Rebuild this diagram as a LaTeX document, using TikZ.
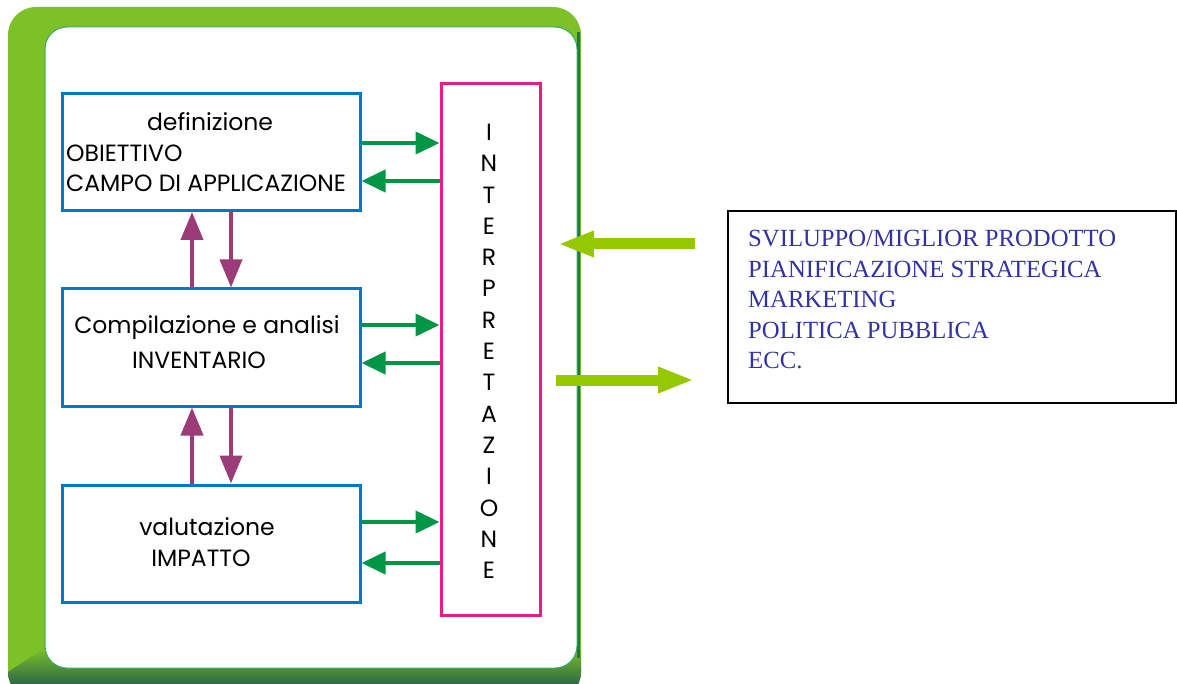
\documentclass[tikz,border=0pt]{standalone}
\usepackage{fontspec}
\setmainfont{Liberation Serif}
\newfontfamily\gothic{Poppins}
\usetikzlibrary{arrows.meta}
\definecolor{framegreen}{RGB}{125,192,40}
\definecolor{framedark}{RGB}{35,95,75}
\definecolor{edgegreen}{RGB}{30,115,80}
\definecolor{boxblue}{RGB}{0,120,200}
\definecolor{intpink}{RGB}{228,30,130}
\definecolor{arrgreen}{RGB}{0,150,70}
\definecolor{arrpurple}{RGB}{155,60,120}
\definecolor{arrlime}{RGB}{150,200,0}
\definecolor{txtblue}{RGB}{50,50,160}
\tikzset{
  stagebox/.style={draw=boxblue, line width=3pt, minimum width=298pt, minimum height=117pt, inner sep=0pt},
  lbl/.style={font=\gothic\fontsize{23.5}{28}\selectfont, inner sep=0pt},
  flow/.style={draw=arrgreen, line width=4pt, -{Triangle[length=24pt,width=22pt]}},
  cycarrow/.style={draw=arrpurple, line width=4pt, -{Triangle[length=28pt,width=22pt]}},
  bigarrow/.style={draw=arrlime, line width=11pt, -{Triangle[length=36pt,width=24pt]}}
}
\begin{document}
\begin{tikzpicture}[x=1pt,y=-1pt]
\useasboundingbox (0,0) rectangle (1177,684);
\begin{scope}
  \clip (0,0) rectangle (1177,684);
  \fill[framegreen, rounded corners=28pt] (8,7) rectangle (581,700);
  \begin{scope}
    \clip[rounded corners=28pt] (8,7) rectangle (581,700);
    \shade[top color=framegreen, bottom color=framedark] (8,672) -- (45,648) -- (581,648) -- (581,688) -- (8,688) -- cycle;
    \fill[framedark] (8,688) rectangle (581,700);
  \end{scope}
\end{scope}
\draw[edgegreen, line width=3pt] (578,32) -- (578,658);
\filldraw[fill=white, draw=arrgreen!80, line width=1pt, rounded corners=22pt] (45,27) rectangle (577,668);

\node[stagebox] (def) at (211,152) {};
\node[stagebox] (comp) at (211,347.5) {};
\node[stagebox] (val) at (211,543.5) {};
\node[draw=intpink, line width=3pt, minimum width=99pt, minimum height=531pt] (int) at (490.5,349.5) {};
\node[draw=black, line width=1.5pt, minimum width=448pt, minimum height=192pt] (uses) at (952,307) {};

\node[lbl] (defa) at (210,122) {definizione};
\node[lbl, anchor=west] (defb) at (66,153) {OBIETTIVO};
\node[lbl, anchor=west] (defc) at (66,183) {CAMPO DI APPLICAZIONE};
\node[lbl] (compa) at (207,328) {Compilazione e analisi};
\node[lbl] (compb) at (199,360) {INVENTARIO};
\node[lbl] (vala) at (207,527) {valutazione};
\node[lbl] (valb) at (201,558) {IMPATTO};
\foreach \ch [count=\i] in {I,N,T,E,R,P,R,E,T,A,Z,I,O,N,E}
  \node[lbl] (int\i) at (489,101+31.3*\i) {\ch};

\foreach \b/\up/\dn in {def/9/-29, comp/22.5/-15.5, val/21.5/-19.5} {
  \draw[flow] ([yshift=\up pt]\b.east) -- ([yshift=\up pt]\b.east -| int.west);
  \draw[flow] ([yshift=\dn pt]\b.east -| int.west) -- ([yshift=\dn pt]\b.east);
}
\foreach \lo/\hi in {comp/def, val/comp} {
  \draw[cycarrow] ([xshift=-19pt]\lo.north) -- ([xshift=-19pt]\hi.south);
  \draw[cycarrow] ([xshift=20pt]\hi.south) -- ([xshift=20pt]\lo.north);
}

\coordinate (inA) at (695,244);
\coordinate (inTip) at (558,244);
\coordinate (outA) at (556,380);
\coordinate (outTip) at (694,380);
\draw[bigarrow] (inA) -- (inTip);
\draw[bigarrow] (outA) -- (outTip);

\node[font=\fontsize{24.7}{30.5}\selectfont, text=txtblue, align=left, anchor=north west, inner sep=0pt] (usetext) at (748,230)
  {SVILUPPO/MIGLIOR PRODOTTO\\PIANIFICAZIONE STRATEGICA\\MARKETING\\POLITICA PUBBLICA\\ECC.};
\end{tikzpicture}
\end{document}
